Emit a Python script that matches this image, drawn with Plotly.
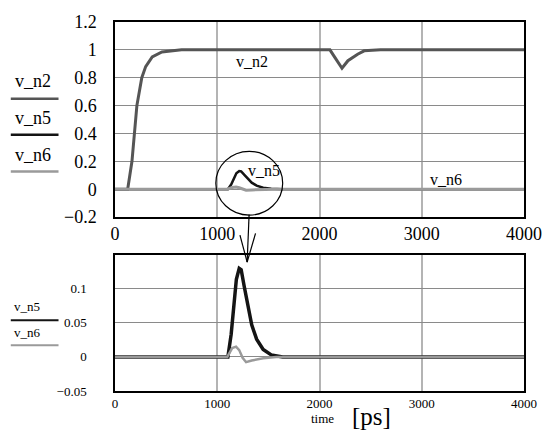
import plotly.graph_objects as go

# ---- data (time in ps) ----
t_n2 = [0, 124, 166, 189, 214, 262, 300, 364, 459, 651, 1000, 2000, 2102, 2150, 2220,
        2278, 2373, 2437, 2597, 3000, 4000]
v_n2 = [0, 0, 0.2, 0.4, 0.6, 0.8, 0.88, 0.95, 0.985, 1.0, 1.0, 1.0, 1.0, 0.946, 0.868,
        0.922, 0.969, 0.993, 1.0, 1.0, 1.0]

t_n5 = [0, 1104, 1136, 1162, 1187, 1215, 1234, 1263, 1296, 1337, 1385, 1449, 1528, 1640, 4000]
v_n5 = [0, 0, 0.033, 0.080, 0.114, 0.130, 0.128, 0.104, 0.076, 0.047, 0.026, 0.011, 0.003, 0, 0]

t_n6 = [0, 1098, 1146, 1184, 1215, 1248, 1282, 1337, 1449, 1576, 4000]
v_n6 = [0, 0, 0.013, 0.015, 0.010, -0.0014, -0.0077, -0.0053, -0.002, 0, 0]

x_ticks = [0, 1000, 2000, 3000, 4000]
y1_ticks = [-0.2, 0, 0.2, 0.4, 0.6, 0.8, 1, 1.2]
y2_ticks = [-0.05, 0, 0.05, 0.1]

C_N2 = "#555555"
C_N5 = "#141414"
C_N6 = "#9a9a9a"
FONT = "'Liberation Serif', 'Times New Roman', 'DejaVu Serif', serif"

fig = go.Figure()
# top plot
fig.add_trace(go.Scatter(x=t_n2, y=v_n2, mode="lines", line=dict(color=C_N2, width=3),
                         xaxis="x", yaxis="y", showlegend=False))
fig.add_trace(go.Scatter(x=t_n5, y=v_n5, mode="lines", line=dict(color=C_N5, width=2.5),
                         xaxis="x", yaxis="y", showlegend=False))
fig.add_trace(go.Scatter(x=t_n6, y=v_n6, mode="lines", line=dict(color=C_N6, width=3),
                         xaxis="x", yaxis="y", showlegend=False))
# bottom plot
fig.add_trace(go.Scatter(x=t_n5, y=v_n5, mode="lines", line=dict(color=C_N5, width=3.5),
                         xaxis="x2", yaxis="y2", showlegend=False))
fig.add_trace(go.Scatter(x=t_n6, y=v_n6, mode="lines", line=dict(color=C_N6, width=2.5),
                         xaxis="x2", yaxis="y2", showlegend=False))

axis_common = dict(showline=True, mirror=True, linecolor="black", linewidth=1.5,
                   zeroline=False, ticks="", showgrid=True)

fig.update_layout(
    width=554, height=431,
    margin=dict(l=115, r=19, t=14, b=40),
    paper_bgcolor="white", plot_bgcolor="white",
    font=dict(family=FONT, color="black"),
    xaxis=dict(domain=[0, 1], anchor="y", range=[0, 4000], tickvals=x_ticks,
               gridcolor="#b4b4b4", gridwidth=1.5, tickfont=dict(size=18, family=FONT),
               **axis_common),
    yaxis=dict(domain=[0.4714, 1], anchor="x", range=[-0.2, 1.2], tickvals=y1_ticks,
               gridcolor="#8a8a8a", gridwidth=1, tickfont=dict(size=18, family=FONT),
               ticklabelstandoff=13, **axis_common),
    xaxis2=dict(domain=[0, 1], anchor="y2", range=[0, 4000], tickvals=x_ticks,
                gridcolor="#b4b4b4", gridwidth=1.5, tickfont=dict(size=13, family=FONT),
                **axis_common),
    yaxis2=dict(domain=[0, 0.3695], anchor="x2", range=[-0.05, 0.15], tickvals=y2_ticks,
                gridcolor="#8a8a8a", gridwidth=1, tickfont=dict(size=13, family=FONT),
                ticklabelstandoff=24, **axis_common),
)

shapes = []
annotations = []

def legend_line(y, color, width):
    shapes.append(dict(type="line", xref="paper", yref="paper", x0=-0.2548, x1=-0.1381,
                       y0=y, y1=y, line=dict(color=color, width=width)))

def legend_text(x, y, text, size):
    annotations.append(dict(xref="paper", yref="paper", x=x, y=y, text=text, showarrow=False,
                            xanchor="center", yanchor="middle",
                            font=dict(size=size, family=FONT, color="black")))

# top legend
legend_text(-0.2, 0.8408, "v_n2", 18)
legend_line(0.7923, C_N2, 2.5)
legend_text(-0.2, 0.740, "v_n5", 18)
legend_line(0.6942, C_N5, 2.5)
legend_text(-0.2, 0.6393, "v_n6", 18)
legend_line(0.595, C_N6, 2.5)

# bottom legend
legend_text(-0.2143, 0.2281, "v_n5", 13)
legend_line(0.1918, C_N5, 2)
legend_text(-0.2143, 0.1592, "v_n6", 13)
legend_line(0.1239, C_N6, 2)

# axis title pieces
legend_text(0.5083, -0.0756, "time", 13)
legend_text(0.626, -0.0703, "[ps]", 25)

# curve labels in top plot
for x, y, txt in [(1337, 0.914, "v_n2"), (1459, 0.132, "v_n5"), (3242, 0.069, "v_n6")]:
    annotations.append(dict(xref="x", yref="y", x=x, y=y, text=txt, showarrow=False,
                            xanchor="center", yanchor="middle",
                            font=dict(size=16, family=FONT, color="black")))

# zoom circle and arrow
shapes.append(dict(type="circle", xref="x", yref="y", x0=986, x1=1640, y0=-0.186, y1=0.272,
                   line=dict(color="black", width=1.2)))
for (x0, y0, x1, y1) in [(0.3279, 0.4782, 0.3231, 0.3493),
                         (0.3055, 0.4225, 0.3231, 0.3493),
                         (0.3436, 0.4271, 0.3231, 0.3493)]:
    shapes.append(dict(type="line", xref="paper", yref="paper", x0=x0, y0=y0, x1=x1, y1=y1,
                       line=dict(color="black", width=1.2)))

fig.update_layout(shapes=shapes, annotations=annotations)
fig.write_html("out.html")
